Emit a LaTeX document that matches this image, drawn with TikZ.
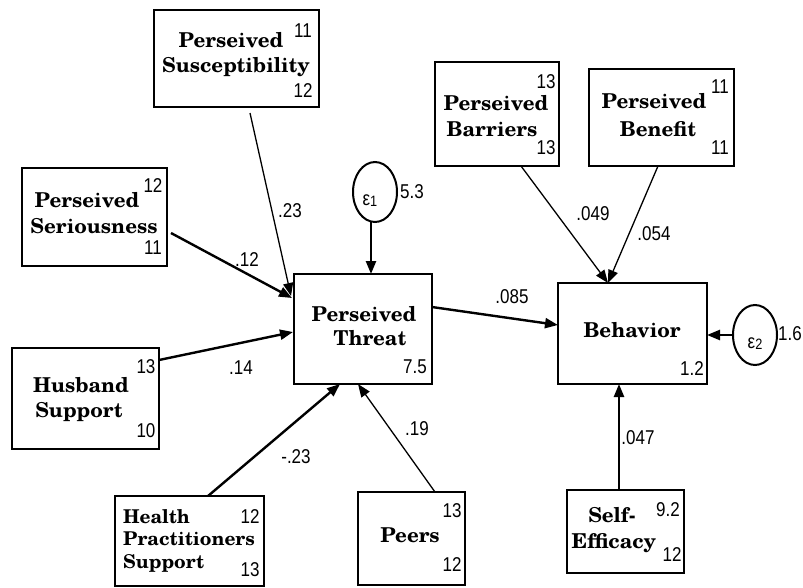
\documentclass[tikz,border=0pt]{standalone}
\usepackage{fontspec}
\usetikzlibrary{arrows.meta,shapes.geometric}
\newfontfamily\labfont{texgyreschola-bold}[Extension=.otf]
\newfontfamily\numfont{Liberation Sans}[FakeStretch=0.85]
\begin{document}
\begin{tikzpicture}[x=1pt,y=-1pt,
  box/.style={draw, line width=2.8pt, inner sep=0, outer sep=0},
  lbl/.style={font=\labfont\fontsize{20.5}{24}\selectfont, anchor=base, inner sep=0},
  lblw/.style={font=\labfont\fontsize{19}{22}\selectfont, anchor=base west, inner sep=0},
  num/.style={font=\numfont\fontsize{20}{22}\selectfont, inner sep=0},
  lat/.style={draw, ellipse, line width=2pt, minimum width=44pt, minimum height=60pt, inner sep=0, outer sep=0},
  tipstyle/.style={-{Triangle[length=13pt,width=10pt]}},
  thk/.style={line width=2.4pt, tipstyle},
  thn/.style={line width=1.3pt, tipstyle}]
\useasboundingbox (0,0) rectangle (803,587);

% boxes
\node[box, minimum width=165pt, minimum height=97pt] (sus) at (236.5,58.5) {};
\node[box, minimum width=145pt, minimum height=98pt] (ser) at (94.5,217) {};
\node[box, minimum width=138pt, minimum height=110pt] (thr) at (363,329) {};
\node[box, minimum width=147pt, minimum height=101pt] (hus) at (85.5,398.5) {};
\node[box, minimum width=149pt, minimum height=90pt] (hea) at (189.5,541) {};
\node[box, minimum width=107pt, minimum height=93pt] (pee) at (411.5,538.5) {};
\node[box, minimum width=124pt, minimum height=104pt] (bar) at (497,114) {};
\node[box, minimum width=145pt, minimum height=97pt] (ben) at (661.5,117.5) {};
\node[box, minimum width=149pt, minimum height=101pt] (beh) at (632.5,333.5) {};
\node[box, minimum width=117pt, minimum height=83pt] (sel) at (625.5,531.5) {};
\node[lat] (e1) at (375,192) {};
\node[lat] (e2) at (755,335) {};

% box texts
\node[lbl] (susA) at (231,47) {Perseived};
\node[lbl] (susB) at (236,72) {Susceptibility};
\node[num] (susN1) at (303,31) {11};
\node[num] (susN2) at (303,91) {12};

\node[lbl] (serA) at (87,207) {Perseived};
\node[lbl] (serB) at (94,233) {Seriousness};
\node[num] (serN1) at (153,186) {12};
\node[num] (serN2) at (153,248) {11};

\node[lbl] (barA) at (496,110) {Perseived};
\node[lbl] (barB) at (492,136) {Barriers};
\node[num] (barN1) at (546,82) {13};
\node[num] (barN2) at (546,148) {13};

\node[lbl] (benA) at (654,108) {Perseived};
\node[lbl] (benB) at (658,136) {Benefit};
\node[num] (benN1) at (720,87) {11};
\node[num] (benN2) at (720,148) {11};

\node[lbl] (thrA) at (364,321) {Perseived};
\node[lbl] (thrB) at (370,345) {Threat};
\node[num] (thrN) at (415,367) {7.5};

\node[lbl] (behA) at (632,337) {Behavior};
\node[num] (behN) at (692,369) {1.2};

\node[lbl] (husA) at (81,392) {Husband};
\node[lbl] (husB) at (79,417) {Support};
\node[num] (husN1) at (146,367) {13};
\node[num] (husN2) at (146,431) {10};

\node[lblw] (heaA) at (123,523) {Health};
\node[lblw] (heaB) at (123,545) {Practitioners};
\node[lblw] (heaC) at (123,568) {Support};
\node[num] (heaN1) at (250,517) {12};
\node[num] (heaN2) at (250,570) {13};

\node[lbl] (peeA) at (410,542) {Peers};
\node[num] (peeN1) at (452,511) {13};
\node[num] (peeN2) at (452,565) {12};

\node[lbl] (selA) at (612,522) {Self-};
\node[lbl] (selB) at (614,548) {Efficacy};
\node[num] (selN1) at (668,510) {9.2};
\node[num] (selN2) at (672,555) {12};

% error terms
\node[num] (e1t) at (370,201) {ε\raisebox{-1pt}{\fontsize{15}{15}\selectfont 1}};
\node[num] (e2t) at (755,344) {ε\raisebox{-1pt}{\fontsize{15}{15}\selectfont 2}};
\node[num] (e1v) at (412,192) {5.3};
\node[num] (e2v) at (790,334) {1.6};

% connectors
\draw[thn] ([xshift=13.5pt,yshift=-6pt]sus.south) -- ([xshift=-3pt,yshift=-22pt]thr.north west);
\draw[thk] ([xshift=4pt,yshift=-16pt]ser.east) -- ([xshift=-2pt,yshift=-24pt]thr.north west);
\draw[thk] ([yshift=-12pt]hus.north east) -- ([xshift=-1pt,yshift=-3pt]thr.west);
\draw[thk] ([xshift=18.5pt]hea.north) -- ([xshift=-23pt]thr.south);
\draw[thn] ([xshift=23.5pt]pee.north) -- ([xshift=-5pt]thr.south);
\draw[thk] ([xshift=-4pt]e1.south) -- ([xshift=8pt]thr.north);
\draw[thk] ([yshift=-33pt]thr.north east) -- ([yshift=8.5pt]beh.west);
\draw[thn] ([xshift=24pt]bar.south) -- ([xshift=-24.5pt]beh.north);
\draw[thn] ([xshift=-3.5pt]ben.south) -- ([xshift=-24.5pt]beh.north);
\draw[thk] (e2.west) -- (e2.west -| beh.east);
\draw[thk] ([xshift=-6.5pt]sel.north) -- ([xshift=-13.5pt]beh.south);

% path coefficients
\node[num] (c1) at (290,211) {.23};
\node[num] (c2) at (247,260) {.12};
\node[num] (c3) at (241,368) {.14};
\node[num] (c4) at (296,457) {-.23};
\node[num] (c5) at (417,429) {.19};
\node[num] (c6) at (512,297) {.085};
\node[num] (c7) at (593,214) {.049};
\node[num] (c8) at (654,234) {.054};
\node[num] (c9) at (638,438) {.047};
\end{tikzpicture}
\end{document}
